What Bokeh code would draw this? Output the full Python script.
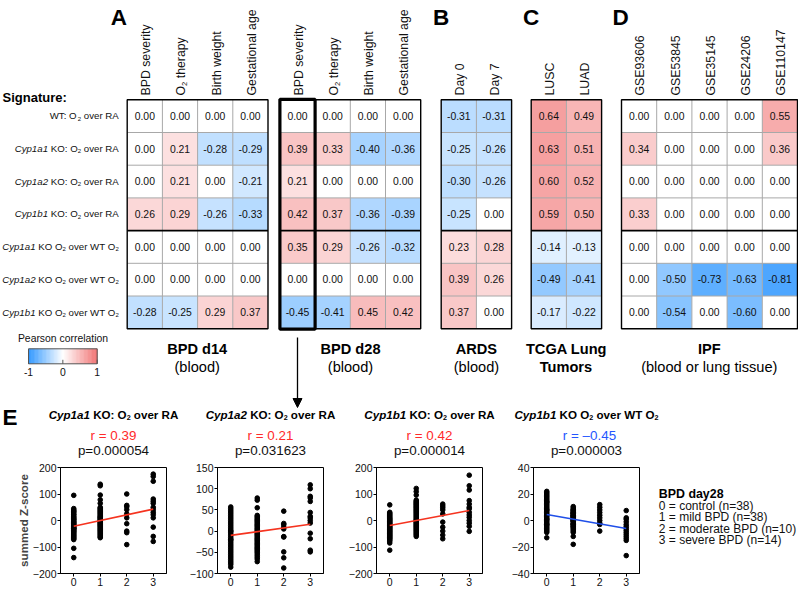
import math
from bokeh.plotting import figure
from bokeh.layouts import column, row
from bokeh.models import Range1d, ColumnDataSource, Arrow, NormalHead, FixedTicker
from bokeh.core.properties import value
from bokeh.embed import file_html
from bokeh.resources import INLINE

# ---------------- data ----------------
signatures = [
    "WT: O_2 over RA",
    "*Cyp1a1* KO: O_2 over RA",
    "*Cyp1a2* KO: O_2 over RA",
    "*Cyp1b1* KO: O_2 over RA",
    "*Cyp1a1* KO O_2 over WT O_2",
    "*Cyp1a2* KO O_2 over WT O_2",
    "*Cyp1b1* KO O_2 over WT O_2",
]
bpd_cols = ["BPD severity", "O_2 therapy", "Birth weight", "Gestational age"]
bpd_d14 = [
    [0.00, 0.00, 0.00, 0.00],
    [0.00, 0.21, -0.28, -0.29],
    [0.00, 0.21, 0.00, -0.21],
    [0.26, 0.29, -0.26, -0.33],
    [0.00, 0.00, 0.00, 0.00],
    [0.00, 0.00, 0.00, 0.00],
    [-0.28, -0.25, 0.29, 0.37],
]
bpd_d28 = [
    [0.00, 0.00, 0.00, 0.00],
    [0.39, 0.33, -0.40, -0.36],
    [0.21, 0.00, 0.00, 0.00],
    [0.42, 0.37, -0.36, -0.39],
    [0.35, 0.29, -0.26, -0.32],
    [0.00, 0.00, 0.00, 0.00],
    [-0.45, -0.41, 0.45, 0.42],
]
ards_cols = ["Day 0", "Day 7"]
ards = [[-0.31, -0.31], [-0.25, -0.26], [-0.30, -0.26], [-0.25, 0.00],
        [0.23, 0.28], [0.39, 0.26], [0.37, 0.00]]
tcga_cols = ["LUSC", "LUAD"]
tcga = [[0.64, 0.49], [0.63, 0.51], [0.60, 0.52], [0.59, 0.50],
        [-0.14, -0.13], [-0.49, -0.41], [-0.17, -0.22]]
ipf_cols = ["GSE93606", "GSE53845", "GSE35145", "GSE24206", "GSE110147"]
ipf = [
    [0.00, 0.00, 0.00, 0.00, 0.55],
    [0.34, 0.00, 0.00, 0.00, 0.36],
    [0.00, 0.00, 0.00, 0.00, 0.00],
    [0.33, 0.00, 0.00, 0.00, 0.00],
    [0.00, 0.00, 0.00, 0.00, 0.00],
    [0.00, -0.50, -0.73, -0.63, -0.81],
    [0.00, -0.54, 0.00, -0.60, 0.00],
]
panel_titles = [("BPD d14", "(blood)", False), ("BPD d28", "(blood)", False),
                ("ARDS", "(blood)", False), ("TCGA Lung", "Tumors", True),
                ("IPF", "(blood or lung tissue)", False)]
panel_letters = ["A", None, "B", "C", "D"]
colorbar_ticks = [-1, 0, 1]

severity = [0, 1, 2, 3]
legend_title = "BPD day28"
legend_lines = ["0 = control (n=38)", "1 = mild BPD (n=38)",
                "2 = moderate BPD (n=10)", "3 = severe BPD (n=14)"]

sc_titles = ["*Cyp1a1* KO: O_2 over RA", "*Cyp1a2* KO: O_2 over RA",
             "*Cyp1b1* KO: O_2 over RA", "*Cyp1b1* KO O_2 over WT O_2"]
sc_r = ["r = 0.39", "r = 0.21", "r = 0.42", "r = \u20130.45"]
sc_p = ["p=0.000054", "p=0.031623", "p=0.000014", "p=0.000003"]
sc_sign = [1, 1, 1, -1]
sc_yrange = [(-200, 200), (-100, 150), (-200, 200), (-40, 40)]
sc_yticks = [[-200, -100, 0, 100, 200], [-100, -50, 0, 50, 100, 150],
             [-200, -100, 0, 100, 200], [-40, -20, 0, 20, 40]]
sc_fit = [(-22, 43), (-10, 16), (-19, 38), (4.5, -6)]

cyp1a1_o2_ra = [
    [95, 45, 40, 36, 33, 29, 24, 21, 16, 12, 8, 5, 2, -2, -5, -8, -11, -14, -17,
     -20, -23, -26, -29, -30, -32, -35, -38, -41, -44, -48, -52, -56, -60, -64,
     -68, -72, -105, -140],
    [137, 131, 96, 78, 65, 50, 46, 42, 38, 34, 30, 26, 22, 18, 15, 12, 9, 6, 3,
     0, -3, -6, -9, -12, -15, -18, -22, -26, -30, -34, -38, -42, -46, -50, -54,
     -58, -62, -65],
    [100, 57, 52, 41, 25, 10, -12, -40, -46, -91],
    [175, 166, 148, 81, 73, 65, 50, 41, 31, 22, 10, -25, -60, -79],
]
cyp1a2_o2_ra = [
    [57, 53, 49, 45, 41, 37, 33, 29, 25, 21, 17, 13, 9, 5, 1, 0, -3, -7, -11,
     -15, -19, -20, -23, -27, -31, -35, -39, -43, -47, -51, -55, -59, -63, -67,
     -71, -75, -79, -85],
    [78, 73, 55, 37, 34, 31, 28, 25, 22, 19, 16, 13, 10, 7, 4, 1, -2, -5, -8,
     -11, -14, -17, -20, -23, -26, -29, -32, -35, -38, -41, -44, -47, -50, -54,
     -58, -62, -66, -72],
    [47, 18, 15, 9, 5, -13, -14, -49, -63, -87],
    [109, 100, 82, 78, 70, 44, 35, 31, 25, 19, -5, -18, -45, -49],
]
cyp1b1_o2_ra = [
    [59, 31, 27, 23, 19, 15, 11, 8, 5, 2, -1, -4, -7, -10, -13, -16, -19, -22,
     -25, -28, -31, -34, -37, -40, -43, -46, -49, -52, -55, -58, -61, -64, -67,
     -70, -74, -78, -85, -112],
    [121, 109, 96, 77, 73, 69, 65, 61, 57, 53, 49, 45, 41, 37, 33, 29, 25, 21,
     17, 13, 9, 5, 1, -3, -7, -11, -15, -19, -23, -27, -31, -35, -39, -43, -47,
     -51, -55, -60],
    [62, 55, 48, 40, 25, -6, -25, -40, -55, -69],
    [171, 131, 115, 75, 62, 50, 44, 31, 21, 12, 0, -10, -22, -41],
]
cyp1b1_ko_wt = [
    [22, 21, 20, 19, 18, 17, 16, 15, 14, 14, 13, 12, 11, 10, 9, 8, 8, 7, 6, 5,
     4, 4, 3, 2, 1, 1, 0, -1, -2, -3, -3, -4, -5, -6, -7, -8, -9, -13],
    [10.5, 9.5, 8.5, 8, 7.5, 7, 6, 6, 5.5, 5, 5, 4, 4, 3.5, 3, 3, 2, 2, 1.5, 1,
     1, 0, 0, -0.5, -1, -2, -2.5, -3, -3, -4, -4.5, -5, -6, -7, -8, -9, -12, -18],
    [12, 10, 8, 6, 4, 2, 0, -2, -3, -8],
    [7.5, 2, 1, -1, -3, -4.5, -6, -7.5, -9, -10.5, -12, -13.5, -15, -26.5],
]
sc_data = [cyp1a1_o2_ra, cyp1a2_o2_ra, cyp1b1_o2_ra, cyp1b1_ko_wt]

# ---------------- style / layout ----------------
FONT = "Liberation Sans"
BLUE = (35, 145, 255)
RED = (240, 105, 105)
RED_TXT = "#ff2a2a"
BLUE_TXT = "#2456ff"

REG = {' ': 278, '(': 333, ')': 333, '-': 333, '.': 278, ':': 278, '=': 584,
       'A': 667, 'B': 667, 'C': 722, 'D': 722, 'E': 667, 'G': 778, 'I': 278,
       'K': 667, 'L': 556, 'O': 778, 'P': 667, 'R': 722, 'S': 667, 'T': 611,
       'U': 722, 'W': 944, 'Z': 611, 'F': 611, 'M': 833, 'N': 722,
       'a': 556, 'b': 556, 'c': 500, 'd': 556, 'e': 556, 'f': 278, 'g': 556,
       'h': 556, 'i': 222, 'k': 500, 'l': 222, 'm': 833, 'n': 556, 'o': 556,
       'p': 556, 'r': 333, 's': 500, 't': 278, 'u': 556, 'v': 500, 'w': 722,
       'y': 500, 'x': 500, 'z': 500, '\u2013': 556}
BLD = dict(REG)
BLD.update({':': 333, 'A': 722, 'B': 722, 'K': 722, 'L': 611, 'b': 611, 'c': 556,
            'd': 611, 'g': 611, 'h': 611, 'i': 278, 'k': 556, 'l': 278, 'm': 889,
            'n': 611, 'o': 611, 'p': 611, 'r': 389, 's': 556, 't': 333, 'u': 611,
            'v': 556, 'w': 778, 'y': 556})


def tw(s, bold, size):
    tab = BLD if bold else REG
    return sum(tab.get(c, 556) for c in s) * size / 1000.0


def corr(size):
    return 2.0 + 0.2 * size


def parse(s):
    parts, buf, italic, i = [], "", False, 0
    while i < len(s):
        c = s[i]
        if c == '*':
            if buf:
                parts.append((buf, italic, False))
                buf = ""
            italic = not italic
        elif c == '_':
            if buf:
                parts.append((buf, italic, False))
                buf = ""
            parts.append((s[i + 1], italic, True))
            i += 1
        else:
            buf += c
        i += 1
    if buf:
        parts.append((buf, italic, False))
    return parts


def rich(p, s, x, y, size, bold=False, align="left", color="#000000", vertical=False):
    """x, y in pixel units of the page (y downward, y = baseline); size in px."""
    parts = parse(s)
    widths = [tw(t, bold, size * (0.62 if sub else 1.0)) for t, it, sub in parts]
    total = sum(widths)
    pos = {"left": 0.0, "center": -total / 2.0, "right": -total}[align]
    for (t, it, sub), w in zip(parts, widths):
        fs = size * (0.62 if sub else 1.0)
        style = ("bold " if bold else "") + ("italic" if it else "")
        style = style.strip() or "normal"
        lead = len(t) - len(t.lstrip(' '))
        shown = t.strip(' ')
        off = tw(' ' * lead, bold, fs)
        if shown:
            if vertical:
                px = x + (0.3 * size if sub else 0.0) - 0.7 * corr(size)
                py = y - (pos + off)
                ang = math.pi / 2
            else:
                px = x + pos + off
                py = y + (0.28 * size if sub else 0.0) - corr(size)
                ang = 0.0
            p.text(x=[px], y=[-py], text=[shown], angle=ang, text_font=value(FONT),
                   text_font_size=f"{fs:.2f}px", text_font_style=style,
                   text_color=color, text_align="left", text_baseline="alphabetic")
        pos += w


def cmap(v):
    end = RED if v > 0 else BLUE
    t = min(abs(v), 1.0)
    return "#%02x%02x%02x" % tuple(int(round(255 + (e - 255) * t)) for e in end)


PAGE_W, PAGE_H = 798, 589
TOP_H = 458
top = figure(width=PAGE_W, height=TOP_H, output_backend="svg", toolbar_location=None,
             x_range=Range1d(0, PAGE_W), y_range=Range1d(-TOP_H, 0),
             x_axis_location=None, y_axis_location=None, min_border=0)
top.outline_line_color = None
top.xgrid.visible = False
top.ygrid.visible = False

CW, RH, HTOP = 35.2, 32.7, 99.3
panel_left = [126.7, 279.4, 440.7, 530.7, 621.0]
panel_center_title = [196.7, 350.0, 475.9, 566.0, 708.8]
panels = [(bpd_cols, bpd_d14), (bpd_cols, bpd_d28), (ards_cols, ards),
          (tcga_cols, tcga), (ipf_cols, ipf)]
nrows = len(signatures)
HBOT = HTOP + nrows * RH
SEP = 4
VAL_SIZE = 10.4

for k, (cols, mat) in enumerate(panels):
    left0 = panel_left[k]
    ncol = len(cols)
    L, R, T, B, C, cx, cy, lab = [], [], [], [], [], [], [], []
    for i, rv in enumerate(mat):
        for j, v in enumerate(rv):
            L.append(left0 + j * CW)
            R.append(left0 + (j + 1) * CW)
            T.append(-(HTOP + i * RH))
            B.append(-(HTOP + (i + 1) * RH))
            C.append(cmap(v))
            cx.append(left0 + (j + 0.5) * CW)
            cy.append(-(HTOP + (i + 0.5) * RH + 3.8 - corr(VAL_SIZE)))
            lab.append(f"{v:.2f}")
    src = ColumnDataSource(dict(left=L, right=R, top=T, bottom=B, color=C,
                                cx=cx, cy=cy, lab=lab))
    top.quad(left="left", right="right", top="top", bottom="bottom",
             fill_color="color", line_color=None, source=src)
    right0 = left0 + ncol * CW
    xs0, xs1, ys0, ys1 = [], [], [], []
    for j in range(1, ncol):
        xs0.append(left0 + j * CW); xs1.append(left0 + j * CW)
        ys0.append(-HTOP); ys1.append(-HBOT)
    for i in range(1, nrows):
        if i == SEP:
            continue
        xs0.append(left0); xs1.append(right0)
        ys0.append(-(HTOP + i * RH)); ys1.append(-(HTOP + i * RH))
    top.segment(x0=xs0, y0=ys0, x1=xs1, y1=ys1, line_color="#a8a8a8", line_width=1)
    top.segment(x0=[left0], y0=[-(HTOP + SEP * RH)], x1=[right0], y1=[-(HTOP + SEP * RH)],
                line_color="black", line_width=1.6)
    top.quad(left=[left0], right=[right0], top=[-HTOP], bottom=[-HBOT],
             fill_color=None, line_color="black", line_width=1.4)
    top.text(x="cx", y="cy", text="lab", source=src, text_font=value(FONT),
             text_font_size=f"{VAL_SIZE}px", text_align="center",
             text_baseline="alphabetic", text_color="#111111")
    for j, c in enumerate(cols):
        rich(top, c, left0 + (j + 0.5) * CW + 0.36 * 12.3, 95.0, 12.3, vertical=True,
             color="#111111")
    t1, t2, b2 = panel_titles[k]
    rich(top, t1, panel_center_title[k], 353.5, 14.6, bold=True, align="center")
    rich(top, t2, panel_center_title[k], 371.0, 14.6, bold=b2, align="center")
    if panel_letters[k]:
        lx = {"A": 118.3, "B": 440.5, "C": 530.5, "D": 620.0}[panel_letters[k]]
        rich(top, panel_letters[k], lx, 23.3, 22.5, bold=True, align="center")

hl = panel_left[1]
top.quad(left=[hl], right=[hl + CW], top=[-HTOP + 0.5], bottom=[-HBOT - 0.5],
         fill_color=None, line_color="black", line_width=3.2)
top.add_layout(Arrow(end=NormalHead(size=9, fill_color="black", line_color="black"),
                     x_start=hl + CW / 2, y_start=-337, x_end=hl + CW / 2, y_end=-407,
                     line_width=1.3, line_color="black"))

rich(top, "Signature:", 2.0, 101.5, 13.0, bold=True)
for i, s in enumerate(signatures):
    rich(top, s, 118.3, HTOP + (i + 0.5) * RH + 3.6, 9.7, align="right", color="#111111")

CB_L, CB_R, CB_T, CB_B = 28.0, 96.7, 348.3, 363.3
nseg = 120
cbv = [-1 + 2 * (k + 0.5) / nseg for k in range(nseg)]
top.quad(left=[CB_L + (CB_R - CB_L) * k / nseg for k in range(nseg)],
         right=[CB_L + (CB_R - CB_L) * (k + 1) / nseg + 0.3 for k in range(nseg)],
         top=[-CB_T] * nseg, bottom=[-CB_B] * nseg,
         fill_color=[cmap(v) for v in cbv], line_color=None)
top.quad(left=[CB_L], right=[CB_R], top=[-CB_T], bottom=[-CB_B], fill_color=None,
         line_color="#555555", line_width=1)
tick_x = [CB_L + (CB_R - CB_L) * (v + 1) / 2 for v in colorbar_ticks]
top.segment(x0=tick_x, x1=tick_x, y0=[-CB_B] * 3, y1=[-CB_B + 4] * 3,
            line_color="#555555", line_width=1)
for v, xx in zip(colorbar_ticks, tick_x):
    rich(top, str(v), xx, 376.0, 10.4, align="center", color="#111111")
rich(top, "Pearson correlation", 62.5, 342.5, 10.4, align="center", color="#111111")

rich(top, "E", 2.0, 423.3, 22.5, bold=True)
frames = [(60.0, 166.0), (217.0, 323.0), (376.0, 482.0), (533.0, 639.0)]
for k in range(4):
    cxm = (frames[k][0] + frames[k][1]) / 2
    rich(top, sc_titles[k], cxm, 418.5, 11.6, bold=True, align="center")
    rich(top, sc_r[k], cxm + (3 if sc_sign[k] < 0 else 0), 440.0, 13.4, align="center",
         color=RED_TXT if sc_sign[k] > 0 else BLUE_TXT)
    rich(top, sc_p[k], cxm, 454.5, 13.4, align="center", color="#111111")

# ---------------- scatter panels ----------------
BOT_H = PAGE_H - TOP_H
BT, BB = 9, 16
FRAME_W = 106
sc_borders = []
prev_end = 0.0
for k in range(4):
    lb = int(round(frames[k][0] - prev_end))
    sc_borders.append((lb, 5))
    prev_end = frames[k][0] + FRAME_W + 5
figs = []
for k in range(4):
    lb, rb = sc_borders[k]
    f = figure(width=lb + FRAME_W + rb, height=BOT_H, output_backend="svg",
               toolbar_location=None, x_range=Range1d(-0.5, 3.5),
               y_range=Range1d(*sc_yrange[k]), min_border_left=lb, min_border_right=rb,
               min_border_top=BT, min_border_bottom=BB)
    xs, ys = [], []
    for g, vals in zip(severity, sc_data[k]):
        xs += [g] * len(vals)
        ys += vals
    f.scatter(xs, ys, size=4.6, color="black")
    f.line(list(severity[::3]), list(sc_fit[k]), line_width=1.6,
           line_color="#f5331f" if sc_sign[k] > 0 else "#1f4fe8")
    f.xgrid.visible = False
    f.ygrid.visible = False
    f.outline_line_color = "black"
    f.outline_line_width = 1
    f.xaxis.ticker = FixedTicker(ticks=severity)
    f.yaxis.ticker = FixedTicker(ticks=sc_yticks[k])
    for ax in (f.xaxis[0], f.yaxis[0]):
        ax.axis_line_color = "black"
        ax.major_tick_line_color = "black"
        ax.minor_tick_line_color = None
        ax.major_tick_out = 3
        ax.major_tick_in = 0
        ax.major_label_standoff = 1
        ax.major_label_text_font = FONT
        ax.major_label_text_font_size = "10.5px"
        ax.major_label_text_color = "#111111"
    if k == 0:
        f.yaxis.axis_label = "summed Z-score"
        f.yaxis.axis_label_text_font = FONT
        f.yaxis.axis_label_text_font_style = "bold"
        f.yaxis.axis_label_text_font_size = "11.6px"
        f.yaxis.axis_label_standoff = 0
    figs.append(f)

used = sum(lb + FRAME_W + rb for lb, rb in sc_borders)
LEG_W = PAGE_W - used
leg = figure(width=LEG_W, height=BOT_H, output_backend="svg", toolbar_location=None,
             x_range=Range1d(used, PAGE_W), y_range=Range1d(-PAGE_H, -TOP_H),
             x_axis_location=None, y_axis_location=None, min_border=0)
leg.outline_line_color = None
leg.xgrid.visible = False
leg.ygrid.visible = False
rich(leg, legend_title, 658.3, 495.0, 12.4, bold=True)
for i, t in enumerate(legend_lines):
    rich(leg, t, 658.3, 509.5 + i * 14.3, 12.0, color="#111111")

layout = column(top, row(*figs, leg))
open("out.html", "w").write(file_html(layout, INLINE))
